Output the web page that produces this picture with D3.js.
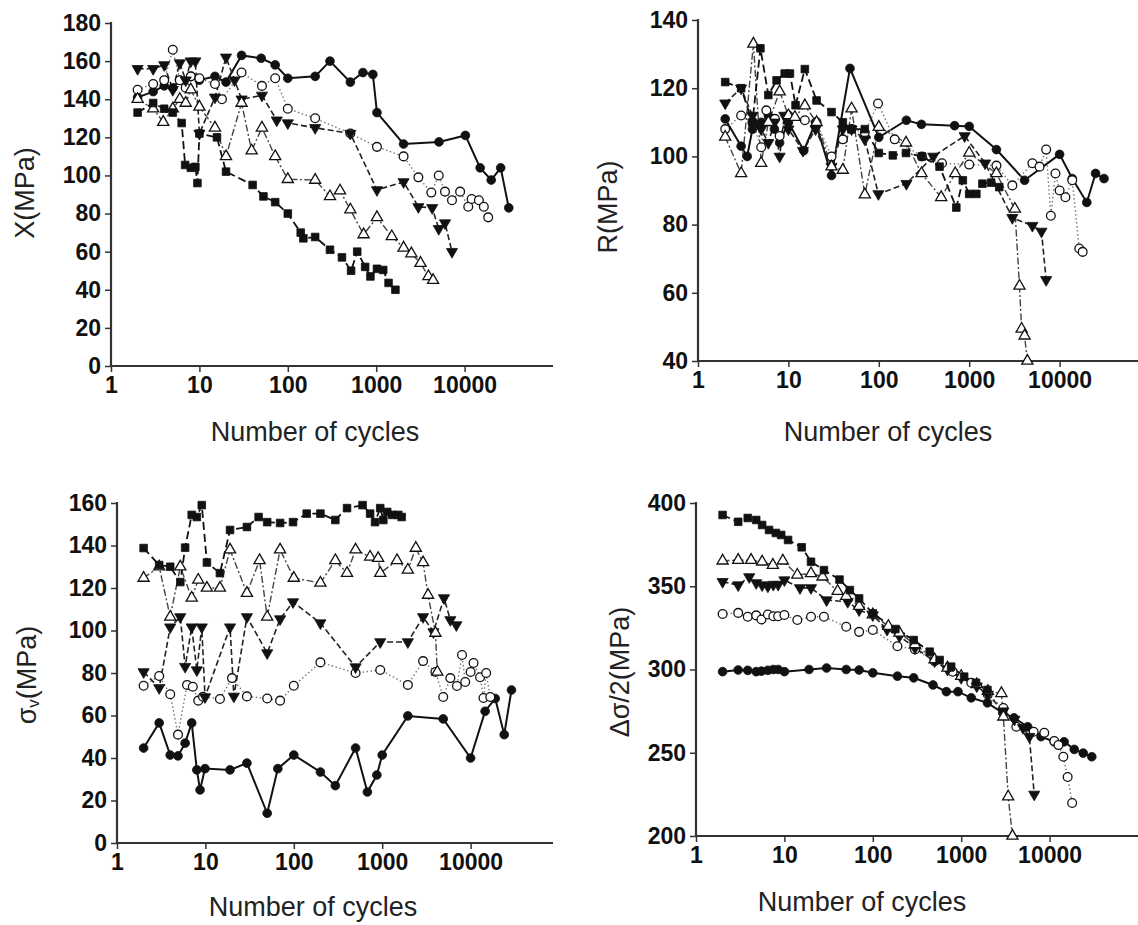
<!DOCTYPE html>
<html><head><meta charset="utf-8">
<script src="https://cdn.jsdelivr.net/npm/d3@7"></script>
<style>body{margin:0;background:#fff} svg{display:block}</style>
</head><body><svg id="c" width="1138" height="925"></svg>
<script>
// ---------- shared axis ticks ----------
const xTicks = [1, 10, 100, 1000, 10000];
const xTickLabels = ["1", "10", "100", "1000", "10000"];
const yTicksX = [0, 20, 40, 60, 80, 100, 120, 140, 160, 180];
const yTicksR = [40, 60, 80, 100, 120, 140];
const yTicksS = [0, 20, 40, 60, 80, 100, 120, 140, 160];
const yTicksD = [200, 250, 300, 350, 400];
const xTitle = "Number of cycles";

// ---------- Panel 1: X (MPa) ----------
const X_circle = [[2,141],[3,144],[4,147],[5,146],[6,150],[8,152],[10,150],[15,152],[20,149],[30,163],[50,161.5],[72,158],[100,151],[204,152],[300,160],[510,149],[708,154],[917,153],[1020,133],[2040,116.5],[5130,117.6],[10200,121],[15000,104],[20000,97.6],[25600,104],[31600,83]];
const X_openCircle = [[2,145],[3,148],[4,150],[5,166],[6,150],[7,146],[8,152],[10,151],[15,148],[18,140],[30,154],[51,147],[72,151],[100,135],[204,130],[510,122],[1020,115],[2040,110],[3000,99],[4200,91],[5100,100],[6000,91.5],[7200,87],[8900,91.5],[11000,83.6],[12000,87.6],[14500,87],[16500,83.6],[18500,78]];
const X_downTri = [[2,156],[3,156],[4,158],[5,145],[6,159],[7,150],[8,160],[9,160],[10,122],[15,141],[20,162],[25,150],[30,140],[51,142],[75,129],[100,127.5],[204,125],[510,122],[1020,92.4],[2040,96.6],[3000,83.5],[4300,83],[5100,72],[6000,75],[7200,60]];
const X_openTri = [[2,140],[3,135],[3.9,128],[5,135],[6,140],[7,138],[8,145],[10,136],[15,125],[20,110],[30,138],[39,113],[51,125],[72,110],[100,98],[204,97.6],[300,89],[390,92],[510,82],[720,69],[1020,78],[1500,68],[2040,62],[2500,59],[3170,54],[3900,47],[4400,45]];
const X_square = [[2,133],[3,138],[4,135],[5,133],[6.3,127.5],[6.9,105.5],[8,104],[9,104.5],[9.5,96],[10,122],[15.8,120],[20,102],[40,95],[53,89],[72,86],[100,80],[140,70],[150,67],[204,67.7],[300,61],[410,57],[520,50],[610,60],[750,52],[860,47],[1020,51],[1200,50.4],[1380,43.6],[1650,40]];

// ---------- Panel 2: R (MPa) ----------
const R_circle = [[2,111],[3,103],[3.5,100],[4,108],[5,110],[6,112],[7,108],[8,104],[10,110],[14.8,101.7],[20,110],[30,94.4],[48,125.8],[100,105.6],[202,110.6],[296,109.4],[690,109],[1000,108.8],[2000,102],[4100,93],[10000,100.6],[13800,93.5],[20000,86.5],[25000,95],[31000,93.5]];
const R_openCircle = [[2,108],[3,112],[4,110],[5,102.7],[5.7,113.5],[7.1,111],[8,106],[10,112],[15.2,110.6],[20.5,110],[30,100],[40,105],[50,108],[70,107],[98,115.5],[150,105],[300,100],[500,98],[1000,97.6],[2000,97.3],[3000,91.5],[5000,98],[6000,97],[7100,102],[8000,82.6],[9000,95],[10000,90],[11600,88],[13800,93],[16500,73],[18000,72]];
const R_downTri = [[2,115.6],[3,120],[4,112],[5,108],[6,104],[7,110],[8,100],[9,112],[10,108],[14.5,101.7],[20,108],[30,97],[40,108],[50,108],[70,105],[99,89],[202,92],[400,100],[890,106],[1500,98],[3000,82],[5000,79.7],[6300,78],[7100,63.8]];
const R_openTri = [[2,105.7],[3,95],[4.1,133],[5,98],[6,110],[8,119],[10,112],[11.8,111.5],[15.2,114.9],[20.5,110],[30,97],[40,96],[50,114],[70,88.8],[100,108.6],[200,104],[297,95],[490,88],[700,95],[1000,101],[2000,95],[3200,84.6],[3600,62],[3800,49.4],[4100,47.4],[4400,40]];
const R_square = [[2,121.8],[3,120],[4,110],[4.9,131.7],[6,118],[7.4,122.3],[9.1,124.3],[10.4,124.3],[12,115],[15.2,125.6],[20.5,116.4],[30,113],[40,110],[50,108],[70,108],[100,101],[143,100.3],[200,101],[300,100],[470,97],[720,85],[850,93],[1000,89],[1200,89],[1400,92],[1750,92.3],[2150,91]];

// ---------- Panel 3: sigma_v (MPa) ----------
const S_circle = [[2,44.7],[3,56.5],[4,41.4],[4.9,41],[5.9,47],[7,56.5],[8,34.4],[8.7,25],[9.9,35],[19,34.4],[29.5,37.6],[50,14],[66,35],[100,41.4],[200,33.4],[295,27],[500,44.7],[680,24],[870,32],[1000,41.4],[1950,59.8],[4900,58.4],[10000,40],[14600,62],[19000,68],[24000,51],[29000,72]];
const S_openCircle = [[2,74],[3,78.6],[4,70],[4.9,51],[6.2,74.4],[7.2,73.5],[8.3,67],[9.4,68.8],[14.6,67.8],[20,77.6],[29.5,69],[50,68],[70,67],[100,74],[200,85],[500,80],[950,81.4],[1950,74.4],[2900,85.6],[4000,80.5],[4900,68.7],[5900,77.6],[7000,73.9],[8000,88.5],[8700,75.8],[10000,80.5],[10800,84.7],[12800,78],[14000,68.2],[15000,80],[16700,68.7]];
const S_downTri = [[2,80.5],[3,73],[4,101.6],[5.2,106.4],[5.9,83],[7,101.6],[8,81.4],[9.1,101.6],[9.9,68.7],[19,101.6],[21,69],[29.5,106.4],[50,89.4],[70,105.4],[98,113.4],[200,103.5],[500,82.8],[950,94.6],[1950,94.6],[2900,106.4],[3800,99.3],[5000,115.3],[5900,105],[6900,102.6]];
const S_openTri = [[2,124.7],[3,130],[4,106.4],[5.2,130],[7,115.3],[8.3,123.8],[10.4,120],[14.6,120],[19,138],[29.5,117.6],[41,133],[50,106.4],[70,138],[100,124.7],[200,122.4],[295,133],[400,127],[500,138],[730,134.6],[900,134],[950,127],[1470,133],[1950,128.5],[2400,138.8],[2900,132],[3300,116.7],[4000,98.8],[4200,80.5]];
const S_square = [[2,138.8],[3,130.8],[4,130],[5.2,122.8],[5.9,139],[7,154.4],[8,153.4],[9.1,159],[10.4,132],[14.6,127],[19,147.3],[29.5,148.7],[40,153.4],[50,151],[70,150.6],[98,151],[140,155],[200,155],[295,152],[400,157.6],[600,159],[730,155],[830,151],[950,157.6],[1030,152],[1140,155.8],[1300,154.4],[1520,154.4],[1660,153.4]];

// ---------- Panel 4: delta sigma / 2 (MPa) ----------
const D_circle = [[2,298.7],[3,299.7],[3.85,299.5],[4.8,298.7],[5.5,299],[6.5,299.5],[7.5,300],[8.5,300],[10,298.7],[19,300],[30,300.9],[50,300],[70,299.7],[100,298],[190,296],[290,295],[480,290.7],[680,286.7],[920,286.7],[1300,283],[1980,280],[2950,274],[3960,271],[5650,265.6],[8000,259.7],[11300,256.6],[14600,256.6],[19000,252],[24000,249.8],[30000,247.6]];
const D_openCircle = [[2,333.3],[3,334],[3.85,331.7],[4.8,332.5],[5.5,330],[6.5,333],[7.5,332],[8.5,332],[10,332.7],[14,329.7],[20,331.7],[28,331.7],[50,325.7],[70,322.6],[100,323.7],[190,314],[300,312],[500,305],[800,298.7],[1300,292],[2000,285],[3000,276.9],[4200,265.6],[6600,262.6],[8700,262],[11300,257],[12600,254.6],[14300,247.6],[16000,235.4],[18000,219.8]];
const D_downTri = [[2,352.7],[3,350.7],[4,355.6],[4.8,352],[5.6,350.7],[6.5,350],[7.5,351],[8.5,351],[10,353.7],[15,349],[20,349],[30,341.7],[52,340.7],[70,335.7],[100,332.7],[145,324],[200,320],[300,313],[500,305],[700,300],[1000,295],[1500,290],[2000,285],[3000,275],[4000,270],[5000,265],[5900,259.7],[6700,225]];
const D_openTri = [[2,365.3],[3,365.7],[4.2,365.7],[5.6,364.7],[7.4,362.7],[9.6,365.3],[14,356.8],[20,357.7],[27,355.7],[40,347],[50,344],[70,338],[100,333],[150,326],[200,322],[300,315],[500,306],[700,301],[1000,296],[1500,291],[2000,287],[2850,285.7],[3000,271.6],[3400,223.6],[3800,200]];
const D_square = [[2,392.8],[3,388.7],[3.85,391],[4.8,389.8],[5.6,386.8],[6.7,383.8],[8,382],[9.2,380.8],[11,377.8],[15.7,373.4],[20,364.7],[28,359.7],[42,354],[55,347.7],[70,342.7],[100,333.7],[180,324.3],[290,317.7],[440,310.7],[570,305.7],[770,301.7],[1080,295.7],[1470,292],[1980,287.7]];

// ---------- styles of the five series (marker + line) ----------
const seriesStyles = [
  {marker: "circle",   filled: true,  dash: null,        stroke: "#111", width: 2.0},
  {marker: "circle",   filled: false, dash: "1.5,2.5",   stroke: "#777", width: 1.4},
  {marker: "downTri",  filled: true,  dash: "6,3",       stroke: "#222", width: 1.6},
  {marker: "upTri",    filled: false, dash: "7,2.5,2,2.5", stroke: "#444", width: 1.4},
  {marker: "square",   filled: true,  dash: "8,4",       stroke: "#111", width: 1.8}
];

// ---------- panel layouts ----------
const panels = [
  {series: [X_circle, X_openCircle, X_downTri, X_openTri, X_square],
   yDomain: [0, 180], yTicks: yTicksX,
   x0: 111, dec: 88.4, xEnd: 553, yBottom: 366, yTop: 23,
   titleX: 315, titleY: 441, yLabel: "X(MPa)", yLabelX: 25, yLabelY: 193},
  {series: [R_circle, R_openCircle, R_downTri, R_openTri, R_square],
   yDomain: [40, 140], yTicks: yTicksR,
   x0: 698, dec: 90.4, xEnd: 1138, yBottom: 361, yTop: 20,
   titleX: 888, titleY: 441, yLabel: "R(MPa)", yLabelX: 608, yLabelY: 207},
  {series: [S_circle, S_openCircle, S_downTri, S_openTri, S_square],
   yDomain: [0, 160], yTicks: yTicksS,
   x0: 117, dec: 88.4, xEnd: 553, yBottom: 843, yTop: 503,
   titleX: 313, titleY: 916, yLabel: "sigma", yLabelX: 27, yLabelY: 675},
  {series: [D_circle, D_openCircle, D_downTri, D_openTri, D_square],
   yDomain: [200, 400], yTicks: yTicksD,
   x0: 696, dec: 88.4, xEnd: 1138, yBottom: 836, yTop: 503,
   titleX: 862, titleY: 911, yLabel: "Δσ/2(MPa)", yLabelX: 620, yLabelY: 672}
];

const svg = d3.select("#c");
const FONT = "'Liberation Sans', Arial, Helvetica, sans-serif";

function symbolPath(kind) {
  if (kind === "circle") return d3.symbol().type(d3.symbolCircle).size(60)();
  if (kind === "square") return d3.symbol().type(d3.symbolSquare).size(58)();
  return d3.symbol().type(d3.symbolTriangle).size(54)();
}

panels.forEach(p => {
  const x = d3.scaleLog().domain([1, 1e5]).range([p.x0, p.x0 + 5 * p.dec]);
  const y = d3.scaleLinear().domain(p.yDomain).range([p.yBottom, p.yTop]);
  const g = svg.append("g");

  // x axis
  const gx = g.append("g").attr("transform", `translate(0,${p.yBottom})`)
    .call(d3.axisBottom(x).tickValues(xTicks).tickFormat((d, i) => xTickLabels[i])
      .tickSize(6).tickPadding(5).tickSizeOuter(0));
  gx.select(".domain").remove();
  gx.selectAll(".tick line").attr("stroke", "#333").attr("stroke-width", 1.5);
  gx.selectAll(".tick text").attr("font-family", FONT).attr("font-size", 23)
    .attr("font-weight", "bold").attr("fill", "#111");
  g.append("line").attr("x1", p.x0 - 1).attr("x2", p.xEnd)
    .attr("y1", p.yBottom).attr("y2", p.yBottom)
    .attr("stroke", "#333").attr("stroke-width", 2.2);

  // y axis
  const gy = g.append("g").attr("transform", `translate(${p.x0},0)`)
    .call(d3.axisLeft(y).tickValues(p.yTicks).tickSize(6).tickPadding(4).tickSizeOuter(0));
  gy.select(".domain").remove();
  gy.selectAll(".tick line").attr("stroke", "#333").attr("stroke-width", 1.5);
  gy.selectAll(".tick text").attr("font-family", FONT).attr("font-size", 23)
    .attr("font-weight", "bold").attr("fill", "#111");
  g.append("line").attr("x1", p.x0).attr("x2", p.x0)
    .attr("y1", p.yTop - 1).attr("y2", p.yBottom + 1)
    .attr("stroke", "#333").attr("stroke-width", 2.2);

  // axis titles
  g.append("text").attr("x", p.titleX).attr("y", p.titleY)
    .attr("text-anchor", "middle").attr("font-family", FONT)
    .attr("font-size", 27).attr("fill", "#222").text(xTitle);

  const yl = g.append("text")
    .attr("transform", `translate(${p.yLabelX},${p.yLabelY}) rotate(-90)`)
    .attr("text-anchor", "middle").attr("dominant-baseline", "central")
    .attr("font-family", FONT).attr("font-size", 27).attr("fill", "#222");
  if (p.yLabel === "sigma") {
    yl.append("tspan").text("σ");
    yl.append("tspan").attr("font-size", 17).attr("dy", 6).text("v");
    yl.append("tspan").attr("dy", -6).text("(MPa)");
  } else {
    yl.text(p.yLabel);
  }

  // series
  const line = d3.line().x(d => x(d[0])).y(d => y(d[1]));
  p.series.forEach((data, si) => {
    const st = seriesStyles[si];
    g.append("path").datum(data).attr("d", line)
      .attr("fill", "none").attr("stroke", st.stroke)
      .attr("stroke-width", st.width)
      .attr("stroke-dasharray", st.dash);
  });
  p.series.forEach((data, si) => {
    const st = seriesStyles[si];
    const path = symbolPath(st.marker);
    g.append("g").selectAll("path").data(data).join("path")
      .attr("d", path)
      .attr("transform", d => `translate(${x(d[0])},${y(d[1])})` + (st.marker === "downTri" ? " rotate(180)" : ""))
      .attr("fill", st.filled ? "#111" : "#fff")
      .attr("stroke", "#111").attr("stroke-width", st.filled ? 0.8 : 1.3);
  });
});
</script>
</body></html>
